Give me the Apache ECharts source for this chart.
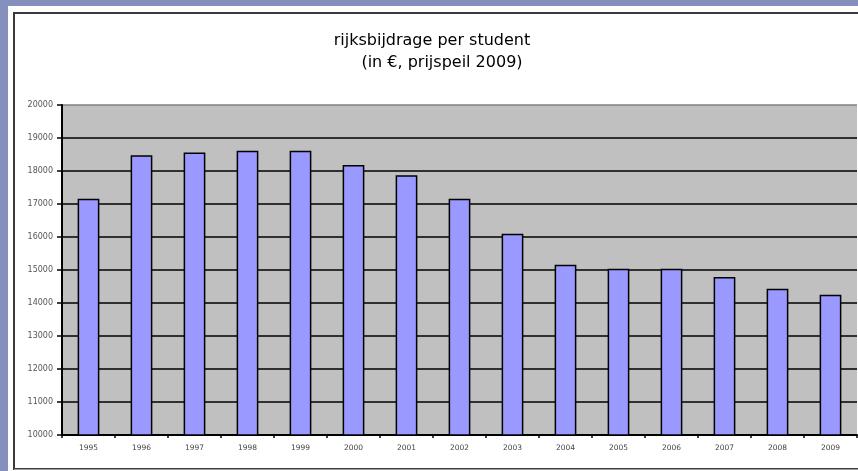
<!DOCTYPE html>
<html>
<head>
<meta charset="utf-8">
<script src="https://cdn.jsdelivr.net/npm/echarts@6/dist/echarts.min.js"></script>
<style>
html,body{margin:0;padding:0;background:#8590BE;}
#chart{width:858px;height:471px;}
</style>
</head>
<body>
<div id="chart"></div>
<script>
const years = ['1995','1996','1997','1998','1999','2000','2001','2002','2003','2004','2005','2006','2007','2008','2009'];
const bijdrage = [17160, 18480, 18560, 18610, 18610, 18180, 17870, 17160, 16100, 15160, 15040, 15040, 14790, 14430, 14250];
const titleLine1 = 'rijksbijdrage per student';
const titleLine2 = '(in €, prijspeil 2009)';
const yMin = 10000, yMax = 20000, yStep = 1000;

const chart = echarts.init(document.getElementById('chart'), null, {renderer: 'canvas'});
const gridColors = [];
for (let v = yMin; v <= yMax; v += yStep) gridColors.push(v === yMax ? '#808080' : '#000000');

chart.setOption({
  backgroundColor: '#8590BE',
  animation: false,
  graphic: [
    {type: 'rect', z: -10, shape: {x: 8, y: 6, width: 900, height: 500}, style: {fill: '#ffffff'}},
    {type: 'rect', z: -9, shape: {x: 14, y: 13, width: 900, height: 456}, style: {fill: '#ffffff', stroke: '#3a3a3a', lineWidth: 2}},
    {type: 'line', z: -8, shape: {x1: 14, y1: 469.5, x2: 858, y2: 469.5}, style: {stroke: '#a0a0a0', lineWidth: 1}}
  ],
  title: [
    {text: titleLine1, left: 427, top: 28, textAlign: 'center',
     textStyle: {fontFamily: 'DejaVu Sans', fontSize: 16, fontWeight: 'normal', color: '#000'}},
    {text: titleLine2, left: 437, top: 50, textAlign: 'center',
     textStyle: {fontFamily: 'DejaVu Sans', fontSize: 16, fontWeight: 'normal', color: '#000'}}
  ],
  grid: {left: 62, top: 105, width: 795, height: 330, show: true, backgroundColor: '#C0C0C0', borderWidth: 0},
  xAxis: {
    type: 'category', data: years, boundaryGap: true,
    axisLine: {lineStyle: {color: '#000', width: 2}},
    axisTick: {show: true, length: 3, lineStyle: {color: '#000', width: 1.5}},
    axisLabel: {margin: 9, fontFamily: 'DejaVu Sans', fontSize: 7.5, color: '#444'}
  },
  yAxis: {
    type: 'value', min: yMin, max: yMax, interval: yStep,
    axisLine: {show: true, lineStyle: {color: '#000', width: 2}},
    axisTick: {show: true, length: 5, lineStyle: {color: '#000', width: 1.5}},
    axisLabel: {margin: 9, fontFamily: 'DejaVu Sans', fontSize: 8, color: '#555', formatter: function (v) { return String(v); }},
    splitLine: {show: true, lineStyle: {color: gridColors, width: 1.5}}
  },
  series: [{
    type: 'bar', data: bijdrage, barWidth: '41%',
    itemStyle: {color: '#9999FF', borderColor: '#000', borderWidth: 1.5}
  }]
});
</script>
</body>
</html>
